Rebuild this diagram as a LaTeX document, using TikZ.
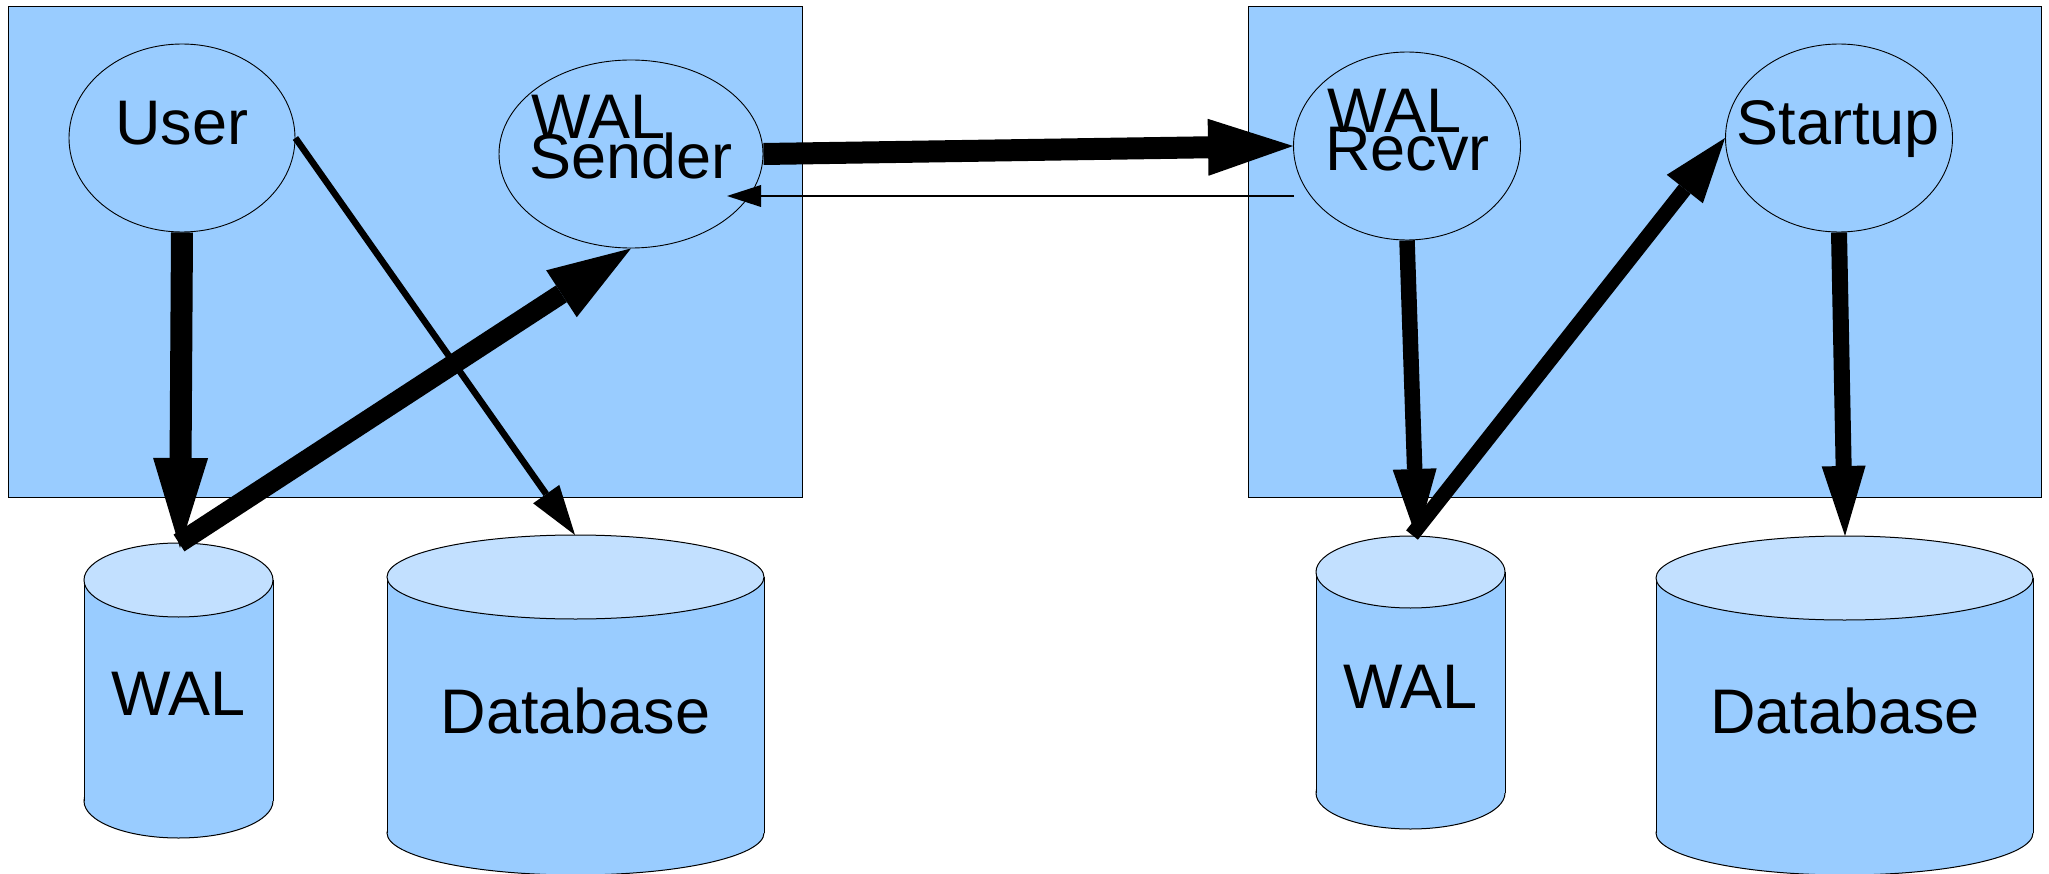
\documentclass[tikz,border=0pt]{standalone}
\usepackage{fontspec}
\setmainfont{Liberation Sans}
\usetikzlibrary{arrows.meta,shapes.geometric}
\definecolor{boxblue}{HTML}{99CCFF}
\definecolor{toplight}{HTML}{C2E0FF}
\newcommand{\drawcyl}[5]{% cx, rx, ytop, ybot, ry
  \filldraw[cylline, fill=boxblue] (#1,#4) ellipse [x radius=#2, y radius=#5];
  \fill[boxblue] (#1-#2,#3) rectangle (#1+#2,#4);
  \draw[cylline] (#1-#2,#3) -- (#1-#2,#4) (#1+#2,#3) -- (#1+#2,#4);
  \filldraw[cylline, fill=toplight] (#1,#3) ellipse [x radius=#2, y radius=#5];
}
\begin{document}
\begin{tikzpicture}[x=1pt,y=-1pt,
  lbl/.style={inner sep=0pt, font=\fontsize{63}{63}\selectfont},
  proc/.style={ellipse, draw, line width=0.9pt, fill=boxblue, inner sep=0pt},
  hostbox/.style={draw, line width=1pt, fill=boxblue, inner sep=0pt, anchor=north west},
  cylline/.style={line width=1pt},
  arrA/.style={line width=22pt, -{Triangle[length=90pt,width=55pt,line width=0pt]}},
  arrB/.style={line width=20pt, -{Triangle[length=83pt,width=56pt,line width=0pt]}},
  arrC/.style={line width=22pt, -{Triangle[length=85pt,width=57pt,line width=0pt]}},
  arrD/.style={line width=6.5pt, -{Triangle[length=50pt,width=32pt,line width=0pt]}},
  arrE/.style={line width=1.3pt, -{Triangle[length=34pt,width=22pt,line width=0pt]}},
  arrF/.style={line width=15pt, -{Triangle[length=65pt,width=46pt,line width=0pt]}},
  arrG/.style={line width=15.5pt, -{Triangle[length=70pt,width=44pt,line width=0pt]}},
]
\useasboundingbox (0,0) rectangle (2049,874);

% host boxes
\node[hostbox, minimum width=794pt, minimum height=491pt] (primary) at (8,6) {};
\node[hostbox, minimum width=793pt, minimum height=491pt] (standby) at (1248,6) {};

% processes
\node[proc, minimum width=226pt, minimum height=188pt] (user) at (182,138) {};
\node[proc, minimum width=264pt, minimum height=188pt] (sender) at (631,154) {};
\node[proc, minimum width=227pt, minimum height=188pt] (recvr) at (1407,146) {};
\node[proc, minimum width=227pt, minimum height=188pt] (startup) at (1839,138) {};

\node[lbl, anchor=base] (userT) at (182,145) {User};
\node[lbl, anchor=base west] (senderT1) at (531,139) {WAL};
\node[lbl, anchor=base west] (senderT2) at (529,179) {Sender};
\node[lbl, anchor=base west] (recvrT1) at (1327,133) {WAL};
\node[lbl, anchor=base west] (recvrT2) at (1325,171) {Recvr};
\node[lbl, anchor=base] (startupT) at (1838,145) {Startup};

% storage cylinders
\drawcyl{178.5}{94.5}{580}{801}{37}
\drawcyl{575.5}{188.5}{577}{833}{42}
\drawcyl{1410.5}{94.5}{572}{793}{36}
\drawcyl{1844.5}{188.5}{578}{833}{42}

\node[lbl, anchor=base] (walP) at (178.5,715) {WAL};
\node[lbl, anchor=base] (dbP) at (575.5,733) {Database};
\node[lbl, anchor=base] (walS) at (1410.5,708) {WAL};
\node[lbl, anchor=base] (dbS) at (1845,733) {Database};

% connector end points
\coordinate (walP-in) at (180,548);
\coordinate (walP-out) at (179,543);
\coordinate (dbP-in) at (575,535);
\coordinate (walS-in) at (1417,539);
\coordinate (walS-out) at (1412,535);
\coordinate (dbS-in) at (1845,536);
\coordinate (recvr-back) at (1294,196);
\coordinate (sender-back) at (727,196);

% connectors
\draw[arrA] (user.south) -- (walP-in);
\draw[arrD] (user.east) -- (dbP-in);
\draw[arrB] (walP-out) -- (sender.south);
\draw[arrC] (sender.east) -- (recvr.west);
\draw[arrE] (recvr-back) -- (sender-back);
\draw[arrG] (recvr.south) -- (walS-in);
\draw[arrF] (walS-out) -- (startup.west);
\draw[arrG, line width=16pt] (startup.south) -- (dbS-in);
\end{tikzpicture}
\end{document}
